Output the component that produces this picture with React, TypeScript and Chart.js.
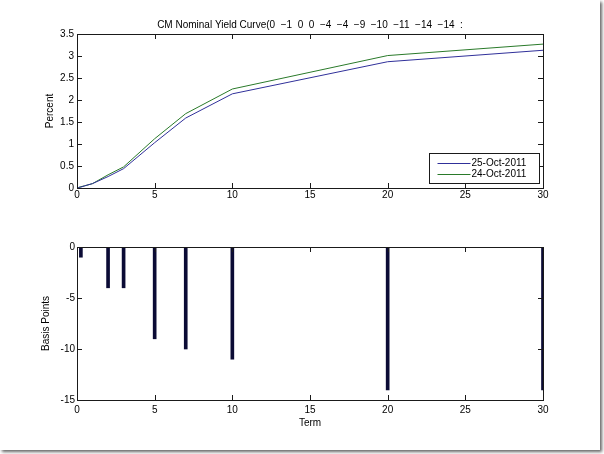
import React, { useEffect, useRef } from 'react';
import { Chart, registerables } from 'chart.js';

Chart.register(...registerables);

// ---- data ----
const terms = [1 / 12, 0.25, 0.5, 1, 2, 3, 5, 7, 10, 20, 30];
const yield25Oct = [0.01, 0.02, 0.05, 0.1, 0.26, 0.44, 1.03, 1.59, 2.14, 2.87, 3.13];
const yield24Oct = [0.01, 0.03, 0.05, 0.1, 0.3, 0.48, 1.12, 1.69, 2.25, 3.01, 3.27];
const basisPoints = [0, -1, 0, 0, -4, -4, -9, -10, -11, -14, -14];
const seriesLabels = ['25-Oct-2011', '24-Oct-2011'];
const titlePrefix = 'CM Nominal Yield Curve(';
const titleText = titlePrefix + basisPoints.map((v) => String(v).replace('-', '\u2212')).join('  ') + '  :';

const FONT = 'Liberation Sans, Arial, Helvetica, sans-serif';
const BLUE = '#30309a';
const GREEN = '#2a7a2a';
const BAR = '#0b0b35';
const AXIS = '#1a1a1a';

const matlabBox = {
  id: 'matlabBox',
  afterDatasetsDraw(chart: any) {
    const { ctx, chartArea } = chart;
    const { left, right, top, bottom } = chartArea;
    const xs = chart.scales.x;
    const ys = chart.scales.y;
    const L = 5;
    ctx.save();
    ctx.strokeStyle = AXIS;
    ctx.lineWidth = 1;
    ctx.beginPath();
    xs.ticks.forEach((t: any) => {
      const px = Math.round(xs.getPixelForValue(t.value)) + 0.5;
      ctx.moveTo(px, bottom);
      ctx.lineTo(px, bottom - L);
      ctx.moveTo(px, top);
      ctx.lineTo(px, top + L);
    });
    ys.ticks.forEach((t: any) => {
      const py = Math.round(ys.getPixelForValue(t.value)) + 0.5;
      ctx.moveTo(left, py);
      ctx.lineTo(left + L, py);
      ctx.moveTo(right, py);
      ctx.lineTo(right - L, py);
    });
    ctx.stroke();
    ctx.strokeRect(Math.round(left) + 0.5, Math.round(top) + 0.5, Math.round(right - left), Math.round(bottom - top));
    ctx.restore();
  },
};

const insideLegend = {
  id: 'insideLegend',
  afterDraw(chart: any, _args: any, opts: any) {
    if (!opts || !opts.display) return;
    const { ctx, chartArea } = chart;
    const w = 110;
    const h = 30;
    const x0 = Math.round(chartArea.right - 4 - w) + 0.5;
    const y0 = Math.round(chartArea.bottom - 5 - h) + 0.5;
    ctx.save();
    ctx.fillStyle = '#fff';
    ctx.fillRect(x0, y0, w, h);
    ctx.strokeStyle = AXIS;
    ctx.lineWidth = 1;
    ctx.strokeRect(x0, y0, w, h);
    ctx.font = `10px ${FONT}`;
    ctx.textBaseline = 'middle';
    ctx.textAlign = 'left';
    chart.data.datasets.forEach((ds: any, i: number) => {
      const y = Math.round(y0 + 9 + i * 11) + 0.5;
      ctx.strokeStyle = ds.borderColor;
      ctx.beginPath();
      ctx.moveTo(x0 + 8, y);
      ctx.lineTo(x0 + 41, y);
      ctx.stroke();
      ctx.fillStyle = '#000';
      ctx.fillText(ds.label, x0 + 42, y);
    });
    ctx.restore();
  },
};

const tickFont = { family: FONT, size: 10 };

export default function App() {
  const topRef = useRef<HTMLCanvasElement | null>(null);
  const botRef = useRef<HTMLCanvasElement | null>(null);

  useEffect(() => {
    if (!topRef.current || !botRef.current) return;
    const top = new Chart(topRef.current, {
      type: 'line',
      data: {
        datasets: [
          {
            label: seriesLabels[0],
            data: terms.map((x, i) => ({ x, y: yield25Oct[i] })),
            borderColor: BLUE,
            borderWidth: 1,
            pointRadius: 0,
            tension: 0,
            fill: false,
          },
          {
            label: seriesLabels[1],
            data: terms.map((x, i) => ({ x, y: yield24Oct[i] })),
            borderColor: GREEN,
            borderWidth: 1,
            pointRadius: 0,
            tension: 0,
            fill: false,
          },
        ],
      },
      options: {
        animation: false,
        responsive: false,
        layout: { padding: { left: 0, right: 57, top: 0, bottom: 0 } },
        plugins: {
          legend: { display: false },
          tooltip: { enabled: false },
          title: {
            display: true,
            text: titleText,
            fullSize: false,
            color: '#000',
            font: { family: FONT, size: 10, weight: 'normal' },
            padding: { top: 19, bottom: 3 },
          },
          insideLegend: { display: true },
        } as any,
        scales: {
          x: {
            type: 'linear',
            min: 0,
            max: 30,
            ticks: { stepSize: 5, font: tickFont, color: '#000', padding: 1, maxRotation: 0, callback: (v: any) => String(v) },
            grid: { display: false, drawTicks: false },
            border: { display: false },
            afterFit: (s: any) => {
              s.height = 39;
            },
          },
          y: {
            type: 'linear',
            min: 0,
            max: 3.5,
            ticks: { stepSize: 0.5, font: tickFont, color: '#000', padding: 3, callback: (v: any) => String(v) },
            grid: { display: false, drawTicks: false },
            border: { display: false },
            title: { display: true, text: 'Percent', color: '#000', font: tickFont, padding: { top: 44, bottom: 0 } },
            afterFit: (s: any) => {
              s.width = 77;
            },
          },
        },
      } as any,
      plugins: [matlabBox, insideLegend],
    });

    const bot = new Chart(botRef.current, {
      type: 'bar',
      data: {
        datasets: [
          {
            label: 'Basis Points',
            data: terms.map((x, i) => ({ x, y: basisPoints[i] })),
            backgroundColor: BAR,
            borderWidth: 0,
            barThickness: 3,
            clip: 0,
          },
        ],
      },
      options: {
        animation: false,
        responsive: false,
        layout: { padding: { left: 0, right: 57, top: 20, bottom: 0 } },
        plugins: { legend: { display: false }, tooltip: { enabled: false } },
        scales: {
          x: {
            type: 'linear',
            min: 0,
            max: 30,
            offset: false,
            ticks: { stepSize: 5, font: tickFont, color: '#000', padding: 4, maxRotation: 0, callback: (v: any) => String(v) },
            grid: { display: false, drawTicks: false, offset: false },
            border: { display: false },
            title: { display: true, text: 'Term', color: '#000', font: tickFont, padding: { top: 0, bottom: 21 } },
            afterFit: (s: any) => {
              s.height = 50;
            },
          },
          y: {
            type: 'linear',
            min: -15,
            max: 0,
            ticks: { stepSize: 5, font: tickFont, color: '#000', padding: 2, callback: (v: any) => String(v) },
            grid: { display: false, drawTicks: false },
            border: { display: false },
            title: { display: true, text: 'Basis Points', color: '#000', font: tickFont, padding: { top: 40, bottom: 0 } },
            afterFit: (s: any) => {
              s.width = 77;
            },
          },
        },
      } as any,
      plugins: [matlabBox],
    });

    return () => {
      top.destroy();
      bot.destroy();
    };
  }, []);

  return (
    <div
      style={{
        position: 'absolute',
        left: 0,
        top: 0,
        width: 600,
        height: 450,
        background: '#fff',
        boxShadow: '2px 2px 3px #666',
      }}
    >
      <canvas ref={topRef} width={600} height={227} style={{ position: 'absolute', left: 0, top: 0 }} />
      <canvas ref={botRef} width={600} height={223} style={{ position: 'absolute', left: 0, top: 227 }} />
    </div>
  );
}
